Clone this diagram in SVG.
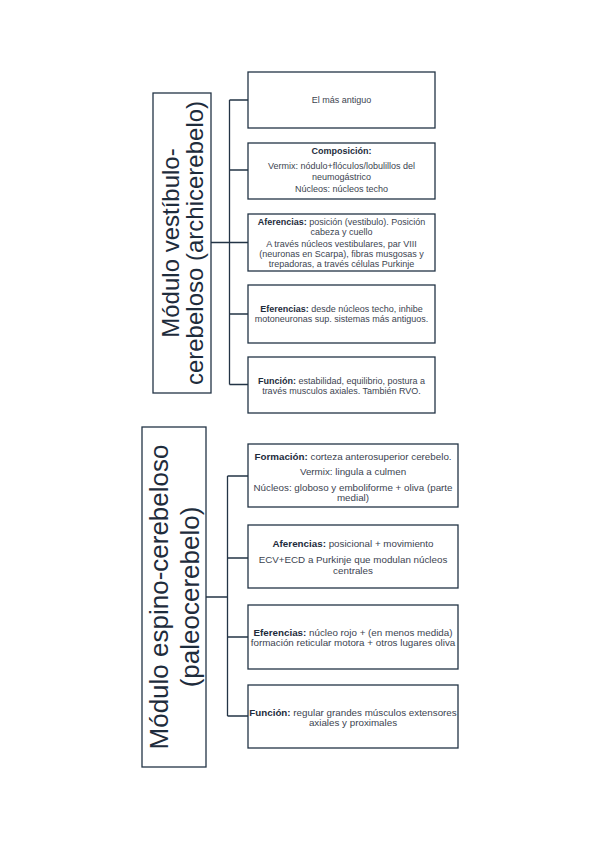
<svg xmlns="http://www.w3.org/2000/svg" width="599" height="848" viewBox="0 0 599 848">
<style>
.box{fill:#fff;stroke:#233446;stroke-width:1.3}
.con{fill:none;stroke:#233446;stroke-width:1.3}
.title{font-family:"Liberation Sans",Arial,sans-serif;fill:#1e2c3c;text-anchor:middle}
.t{font-family:"Liberation Sans",Arial,sans-serif;font-size:9px;fill:#3c4450;text-anchor:middle}
.b{font-family:"Liberation Sans",Arial,sans-serif;font-size:9.8px;fill:#3c4450;text-anchor:middle}
.k{font-weight:bold;fill:#1e2c3c}
</style>
<rect width="599" height="848" fill="#fff"/>
<g id="connectors">
<path class="con" d="M211 242.5H229.5M229.5 100V384.5M229.5 100H248M229.5 170H248M229.5 242.5H248M229.5 314H248M229.5 384.5H248"/>
<path class="con" d="M206 597H227.5M227.5 476V716M227.5 476H248M227.5 558H248M227.5 637H248M227.5 716H248"/>
</g>
<g id="title1">
<rect class="box" x="153" y="93" width="58" height="300"/>
<text class="title" font-size="24" transform="translate(179,243) rotate(-90)">Módulo vestíbulo-</text>
<text class="title" font-size="24" transform="translate(203,243) rotate(-90)">cerebeloso (archicerebelo)</text>
</g>
<g id="n1">
<rect class="box" x="248" y="72" width="187" height="56"/>
<text class="t" x="341.5" y="103">El más antiguo</text>
</g>
<g id="n2">
<rect class="box" x="248" y="143" width="187" height="56"/>
<text class="t k" x="341.5" y="154">Composición:</text>
<text class="t" x="341.5" y="169">Vermix: nódulo+flóculos/lobulillos del</text>
<text class="t" x="341.5" y="180">neumogástrico</text>
<text class="t" x="341.5" y="192">Núcleos: núcleos techo</text>
</g>
<g id="n3">
<rect class="box" x="248" y="214" width="187" height="57"/>
<text class="t" x="341.5" y="225"><tspan class="k">Aferencias:</tspan> posición (vestibulo). Posición</text>
<text class="t" x="341.5" y="235">cabeza y cuello</text>
<text class="t" x="341.5" y="247">A través núcleos vestibulares, par VIII</text>
<text class="t" x="341.5" y="257">(neuronas en Scarpa), fibras musgosas y</text>
<text class="t" x="341.5" y="267">trepadoras, a través células Purkinje</text>
</g>
<g id="n4">
<rect class="box" x="248" y="285" width="187" height="58"/>
<text class="t" x="341.5" y="312"><tspan class="k">Eferencias:</tspan> desde núcleos techo, inhibe</text>
<text class="t" x="341.5" y="322">motoneuronas sup. sistemas más antiguos.</text>
</g>
<g id="n5">
<rect class="box" x="248" y="357" width="187" height="56"/>
<text class="t" x="341.5" y="384"><tspan class="k">Función:</tspan> estabilidad, equilibrio, postura a</text>
<text class="t" x="341.5" y="394">través musculos axiales. También RVO.</text>
</g>
<g id="title2">
<rect class="box" x="142" y="427" width="64" height="340"/>
<text class="title" font-size="26" transform="translate(168,597) rotate(-90)">Módulo espino-cerebeloso</text>
<text class="title" font-size="26" transform="translate(199,597) rotate(-90)">(paleocerebelo)</text>
</g>
<g id="m1">
<rect class="box" x="248" y="444" width="210" height="63"/>
<text class="b" x="353" y="459.5"><tspan class="k">Formación:</tspan> corteza anterosuperior cerebelo.</text>
<text class="b" x="353" y="474.5">Vermix: lingula a culmen</text>
<text class="b" x="353" y="490.5">Núcleos: globoso y emboliforme + oliva (parte</text>
<text class="b" x="353" y="500.5">medial)</text>
</g>
<g id="m2">
<rect class="box" x="248" y="525" width="210" height="63"/>
<text class="b" x="353" y="546.5"><tspan class="k">Aferencias:</tspan> posicional + movimiento</text>
<text class="b" x="353" y="562.5">ECV+ECD a Purkinje que modulan núcleos</text>
<text class="b" x="353" y="573.5">centrales</text>
</g>
<g id="m3">
<rect class="box" x="248" y="605" width="210" height="64"/>
<text class="b" x="353" y="635.5"><tspan class="k">Eferencias:</tspan> núcleo rojo + (en menos medida)</text>
<text class="b" x="353" y="645.5">formación reticular motora + otros lugares oliva</text>
</g>
<g id="m4">
<rect class="box" x="248" y="685" width="210" height="63"/>
<text class="b" x="353" y="715.5"><tspan class="k">Función:</tspan> regular grandes músculos extensores</text>
<text class="b" x="353" y="725.5">axiales y proximales</text>
</g>
</svg>
